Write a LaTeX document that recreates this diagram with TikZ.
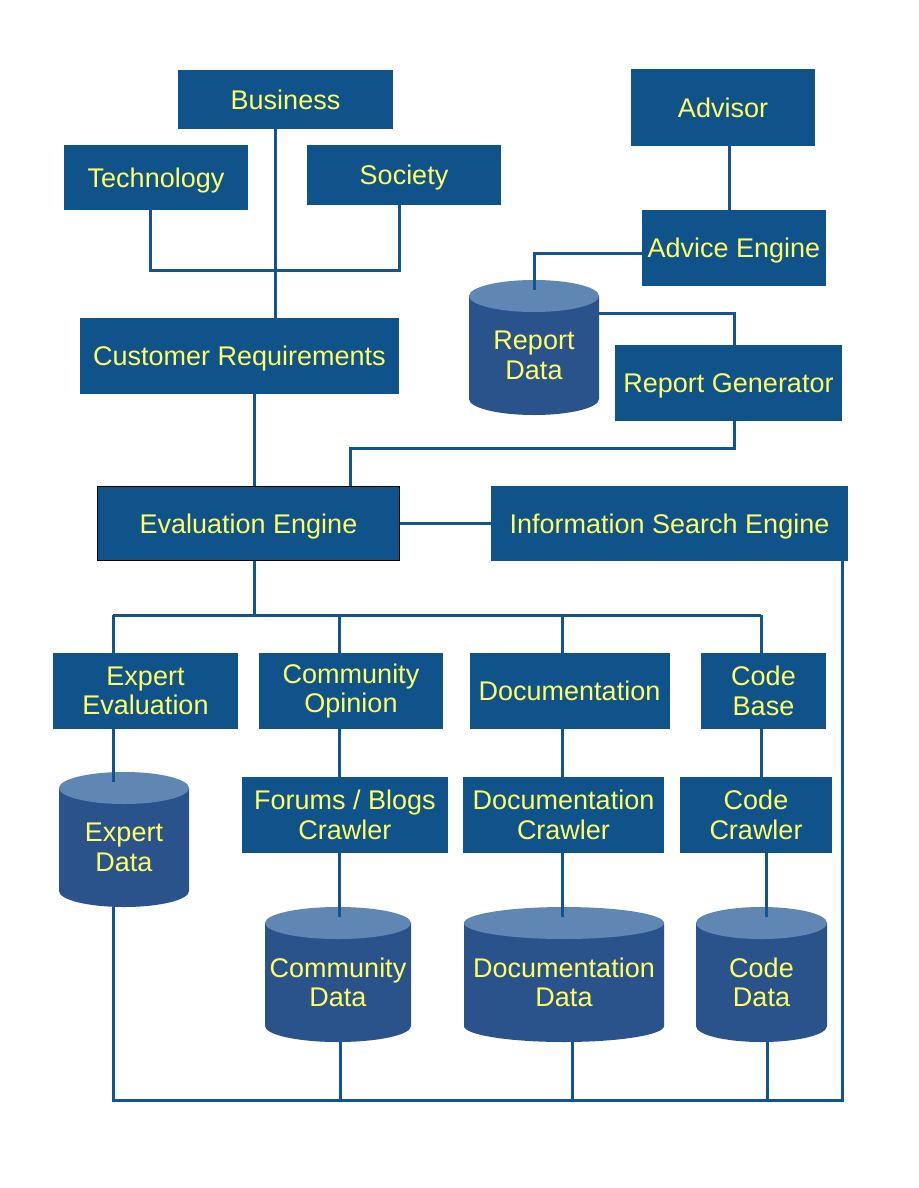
\documentclass[tikz,border=0pt]{standalone}
\usepackage{fontspec}
\setmainfont{Liberation Sans}
\usetikzlibrary{calc}
\definecolor{boxblue}{RGB}{16,82,138}
\definecolor{lineblue}{RGB}{18,84,144}
\definecolor{cylbodyc}{RGB}{42,83,140}
\definecolor{cyltopc}{RGB}{96,134,180}
\definecolor{txtyellow}{RGB}{255,255,102}
\newcommand\dbcyl[6]{%
  \pgfmathsetmacro\dbx{(#2+#3)/2}%
  \pgfmathsetmacro\dbr{(#3-#2)/2}%
  \pgfmathsetmacro\dbt{-(#4)-16}%
  \pgfmathsetmacro\dbb{-(#5)+16}%
  \pgfmathsetmacro\dbm{(\dbt-(#5))/2}%
  \pgfmathsetmacro\dbc{-(#4+#5)/2}%
  \pgfmathsetmacro\dbh{#5-#4}%
  \pgfmathsetmacro\dbw{#3-#2}%
  \fill[cylbodyc] (#2,\dbt) -- (#2,\dbb) arc[start angle=180,end angle=360,x radius=\dbr,y radius=16] -- (#3,\dbt) -- cycle;
  \fill[cyltopc] (\dbx,\dbt) ellipse[x radius=\dbr, y radius=16];
  \node[dbshape, minimum width=\dbw pt, minimum height=\dbh pt] (#1) at (\dbx,\dbc) {};
  \node[dbtext] (#1-label) at (\dbx,\dbm) {#6};
  \coordinate (#1-top) at (\dbx,\dbt);
}
\begin{document}
\begin{tikzpicture}[x=1pt,y=1pt,
  box/.style={rectangle, fill=boxblue, text=txtyellow, inner sep=0pt, align=center,
    font=\fontsize{27}{29.5}\selectfont},
  oneline/.style={text depth=0pt},
  dbshape/.style={rectangle, inner sep=0pt},
  dbtext/.style={text=txtyellow, inner sep=0pt, align=center, font=\fontsize{27}{29.5}\selectfont},
  conn/.style={draw=lineblue, line width=3pt, line join=miter}]
\useasboundingbox (0,0) rectangle (918,-1188);
\fill[white] (0,0) rectangle (918,-1188);

% boxes
\node[box, oneline, minimum width=215pt, minimum height=59pt] (Business) at (285.5,-99.5) {Business};
\node[box, oneline, minimum width=184pt, minimum height=65pt] (Technology) at (156,-177.5) {Technology};
\node[box, oneline, minimum width=194pt, minimum height=60pt] (Society) at (404,-175) {Society};
\node[box, oneline, minimum width=319pt, minimum height=76pt] (CR) at (239.5,-356) {Customer Requirements};
\node[box, oneline, minimum width=184pt, minimum height=77pt] (Advisor) at (723,-107.5) {Advisor};
\node[box, oneline, minimum width=184pt, minimum height=76pt] (AE) at (734,-248) {Advice Engine};
\node[box, oneline, minimum width=227pt, minimum height=76pt] (RG) at (728.5,-383) {Report Generator};
\node[box, oneline, draw=black, line width=1pt, minimum width=302pt, minimum height=74pt] (Eval) at (248.5,-523.5) {Evaluation Engine};
\node[box, oneline, minimum width=357pt, minimum height=75pt] (ISE) at (669.5,-523.5) {Information Search Engine};
\node[box, minimum width=185pt, minimum height=76pt] (EE) at (145.5,-691) {Expert\\Evaluation};
\node[box, minimum width=184pt, minimum height=76pt] (CO) at (351,-691) {Community\\Opinion};
\node[box, oneline, minimum width=200pt, minimum height=76pt] (Doc) at (569.5,-691) {Documentation};
\node[box, minimum width=125pt, minimum height=76pt] (CB) at (763.5,-691) {Code\\Base};
\node[box, minimum width=206pt, minimum height=76pt] (FBC) at (345,-815) {Forums / Blogs\\Crawler};
\node[box, minimum width=201pt, minimum height=76pt] (DC) at (563.5,-815) {Documentation\\Crawler};
\node[box, minimum width=152pt, minimum height=76pt] (CC) at (756,-815) {Code\\Crawler};

% cylinders
\dbcyl{RD}{469}{599}{280}{415}{Report\\Data}
\dbcyl{ED}{59}{189}{772}{907}{Expert\\Data}
\dbcyl{CD}{265}{411}{907}{1042}{Community\\Data}
\dbcyl{DD}{464}{664}{907}{1042}{Documentation\\Data}
\dbcyl{KD}{696}{827}{907}{1042}{Code\\Data}

% junction coordinates
\coordinate (tL) at (150,-270);
\coordinate (sR) at (399,-270);
\coordinate (bx) at (275,-270);
\coordinate (c2) at (254,-615);
\coordinate (a1) at (729,0);
\coordinate (a2) at (534,-253);
\coordinate (r1) at (734,-313);
\coordinate (r2) at (734,-448);
\coordinate (r3) at (350,-448);
\coordinate (i1) at (842,-1100);
\coordinate (i2) at (113,-1100);
\coordinate (eL) at (113,-615);
\coordinate (eR) at (761,-615);
\coordinate (xCO) at (339,-615);
\coordinate (xDoc) at (562,-615);
\coordinate (xCC) at (766,0);
\coordinate (xCDb) at (340,0);
\coordinate (xDDb) at (572,0);
\coordinate (xKDb) at (767,0);

% connectors
\draw[conn] (Technology.south -| tL) -- (tL) -- (sR) -- (Society.south -| sR);
\draw[conn] (Business.south -| bx) -- (CR.north -| bx);
\draw[conn] (CR.south -| c2) -- (Eval.north -| c2);
\draw[conn] (Advisor.south -| a1) -- (AE.north -| a1);
\draw[conn] (AE.west |- a2) -- (a2) -- ($(RD-top)+(0,6)$);
\draw[conn] (RD.east |- r1) -- (r1) -- (RG.north -| r1);
\draw[conn] (RG.south -| r2) -- (r2) -- (r3) -- (Eval.north -| r3);
\draw[conn] (Eval.east) -- (ISE.west);
\draw[conn] (ISE.south -| i1) -- (i1) -- (i2) -- (ED.south -| i2);
\draw[conn] (CD.south -| xCDb) -- (i1 -| xCDb);
\draw[conn] (DD.south -| xDDb) -- (i1 -| xDDb);
\draw[conn] (KD.south -| xKDb) -- (i1 -| xKDb);
\draw[conn] (Eval.south -| c2) -- (c2);
\draw[conn] (eL) -- (eR);
\draw[conn] (eL) -- (EE.north -| eL);
\draw[conn] (xCO) -- (CO.north -| xCO);
\draw[conn] (xDoc) -- (Doc.north -| xDoc);
\draw[conn] (eR) -- (CB.north -| eR);
\draw[conn] (EE.south -| eL) -- ($(ED-top -| eL)+(0,6)$);
\draw[conn] (CO.south -| xCO) -- (FBC.north -| xCO);
\draw[conn] (FBC.south -| xCO) -- ($(CD-top -| xCO)+(0,6)$);
\draw[conn] (Doc.south -| xDoc) -- (DC.north -| xDoc);
\draw[conn] (DC.south -| xDoc) -- ($(DD-top -| xDoc)+(0,6)$);
\draw[conn] (CB.south -| eR) -- (CC.north -| eR);
\draw[conn] (CC.south -| xCC) -- ($(KD-top -| xCC)+(0,6)$);
\end{tikzpicture}
\end{document}
